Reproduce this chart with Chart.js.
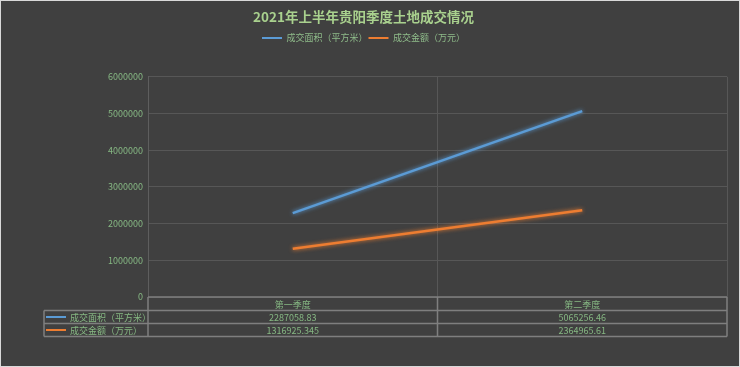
<!DOCTYPE html>
<html>
<head>
<meta charset="utf-8">
<script src="https://cdn.jsdelivr.net/npm/chart.js@4"></script>
<style>
    html, body { margin: 0; padding: 0; background: #d9d9d9; }
    canvas { display: block; }
</style>
</head>
<body>
<canvas id="land_deal" width="740" height="367"></canvas>
<script>
var quarters = ["第一季度", "第二季度"];
var seriesNames = ["成交面积（平方米）", "成交金额（万元）"];
var areaValues = [2287058.83, 5065256.46];
var amountValues = [1316925.345, 2364965.61];
// 表格里显示的原文
var areaLabels = ["2287058.83", "5065256.46"];
var amountLabels = ["1316925.345", "2364965.61"];
var yTicks = [0, 1000000, 2000000, 3000000, 4000000, 5000000, 6000000];

var seriesColors = ["#5b9bd5", "#ed7d31"];
var textColor = "#86b883";
var gridColor = "#575757";
var tableLineColor = "#7f7f7f";
var fontFamily = "'Noto Sans CJK SC', 'Liberation Sans', sans-serif";

// 背景和外框
var frame = {
    id: "frame",
    beforeDraw: function(chart){
        var ctx = chart.ctx;
        ctx.save();
        ctx.fillStyle = "#d9d9d9";
        ctx.fillRect(0, 0, chart.width, chart.height);
        ctx.fillStyle = "#404040";
        ctx.fillRect(1, 1, chart.width - 2, chart.height - 2);
        ctx.restore();
    }
};

// 折线的发光效果
var glow = {
    id: "glow",
    beforeDatasetDraw: function(chart, args){
        var ctx = chart.ctx;
        ctx.save();
        ctx.shadowColor = seriesColors[args.index];
        ctx.shadowBlur = 4;
    },
    afterDatasetDraw: function(chart){
        chart.ctx.restore();
    }
};

// 图下方的数据表
var dataTable = {
    id: "dataTable",
    afterDraw: function(chart){
        var ctx = chart.ctx;
        var area = chart.chartArea;
        var x = chart.scales.x;
        var half = (x.getPixelForValue(1) - x.getPixelForValue(0)) / 2;
        var rowTop = [area.bottom, area.bottom + 13.5, area.bottom + 26.5, area.bottom + 39.5];
        var tableLeft = 44;
        var rows = [areaLabels, amountLabels];

        ctx.save();
        ctx.strokeStyle = tableLineColor;
        ctx.lineWidth = 1.5;

        ctx.beginPath();
        ctx.moveTo(area.left, rowTop[0]);
        ctx.lineTo(area.right, rowTop[0]);
        ctx.moveTo(tableLeft, rowTop[1]);
        ctx.lineTo(area.right, rowTop[1]);
        ctx.moveTo(tableLeft, rowTop[2]);
        ctx.lineTo(area.right, rowTop[2]);
        ctx.moveTo(tableLeft, rowTop[3]);
        ctx.lineTo(area.right, rowTop[3]);
        ctx.moveTo(tableLeft, rowTop[1]);
        ctx.lineTo(tableLeft, rowTop[3]);
        ctx.moveTo(area.left, rowTop[0]);
        ctx.lineTo(area.left, rowTop[3]);
        quarters.forEach(function(q, i){
            var r = x.getPixelForValue(i) + half;
            ctx.moveTo(r, rowTop[0]);
            ctx.lineTo(r, rowTop[3]);
        });
        ctx.stroke();

        ctx.font = "9px " + fontFamily;
        ctx.fillStyle = textColor;
        ctx.textAlign = "center";
        ctx.textBaseline = "middle";
        quarters.forEach(function(q, i){
            var cx = x.getPixelForValue(i);
            ctx.fillText(q, cx, (rowTop[0] + rowTop[1]) / 2 + 0.5);
            rows.forEach(function(row, r){
                ctx.fillText(row[i], cx, (rowTop[r + 1] + rowTop[r + 2]) / 2 + 0.5);
            });
        });

        ctx.textAlign = "left";
        seriesNames.forEach(function(name, r){
            var cy = (rowTop[r + 1] + rowTop[r + 2]) / 2;
            ctx.fillStyle = seriesColors[r];
            ctx.fillRect(tableLeft + 2, cy - 1, 20, 2);
            ctx.fillStyle = textColor;
            ctx.fillText(name, tableLeft + 26, cy + 0.5);
        });
        ctx.restore();
    }
};

var ctx = document.getElementById("land_deal");
var data = {
    labels: quarters,
    datasets: [{
        label: seriesNames[0],
        data: areaValues,
        borderColor: seriesColors[0],
        backgroundColor: seriesColors[0],
        borderWidth: 2.5,
        pointRadius: 0,
        pointHoverRadius: 0
    }, {
        label: seriesNames[1],
        data: amountValues,
        borderColor: seriesColors[1],
        backgroundColor: seriesColors[1],
        borderWidth: 2.5,
        pointRadius: 0,
        pointHoverRadius: 0
    }]
};
var options = {
    responsive: false,
    animation: false,
    layout: {
        padding: { top: 0, left: 0, right: 13, bottom: 0 }
    },
    plugins: {
        title: {
            display: true,
            text: "2021年上半年贵阳季度土地成交情况",
            color: "#a9d18e",
            font: { family: fontFamily, size: 13.5, weight: "bold" },
            padding: { top: 8.5, bottom: 7.7 }
        },
        legend: {
            display: true,
            weight: 1800,
            labels: {
                color: "#8fbc8a",
                font: { family: fontFamily, size: 9 },
                boxWidth: 20,
                boxHeight: 2,
                padding: 1,
                generateLabels: function(chart){
                    var items = Chart.defaults.plugins.legend.labels.generateLabels(chart);
                    items.forEach(function(item){ item.lineWidth = 0; });
                    return items;
                }
            }
        },
        // 图例下方留白
        subtitle: {
            display: true,
            text: "",
            font: { size: 10 },
            padding: { top: 0, bottom: 12.4 }
        },
        tooltip: { enabled: false }
    },
    scales: {
        x: {
            offset: true,
            grid: { offset: true, color: gridColor, drawTicks: false },
            border: { display: false },
            ticks: { display: false },
            afterFit: function(scale){ scale.height = 70; }
        },
        y: {
            min: 0,
            max: 6000000,
            afterBuildTicks: function(scale){
                scale.ticks = yTicks.map(function(v){ return { value: v }; });
            },
            grid: { color: gridColor, drawTicks: false },
            border: { color: "#5e5e5e" },
            ticks: {
                color: textColor,
                padding: 5,
                font: { family: fontFamily, size: 9 },
                callback: function(v){ return String(v); }
            },
            afterFit: function(scale){ scale.width = 148; }
        }
    }
};

new Chart(ctx, {
    type: "line",
    data: data,
    options: options,
    plugins: [frame, glow, dataTable]
});
</script>
</body>
</html>
